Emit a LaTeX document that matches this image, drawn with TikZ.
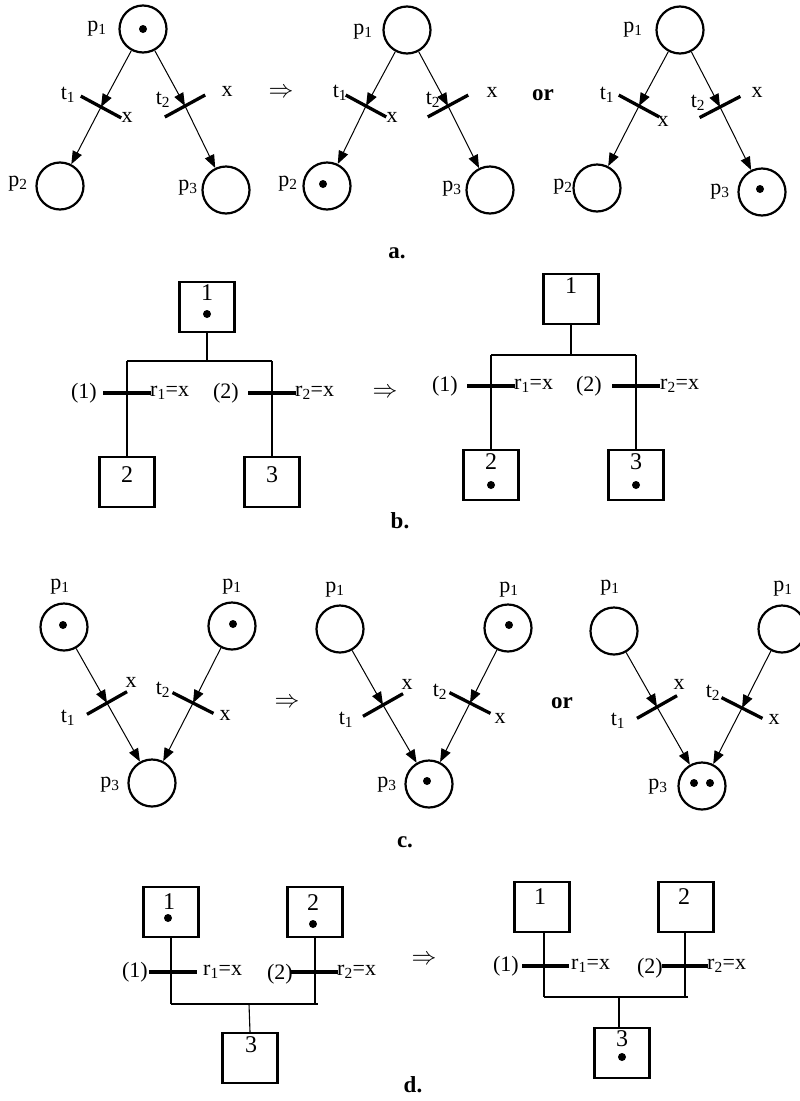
\documentclass[tikz,border=0pt]{standalone}
\usepackage{fontspec}
\setmainfont{Liberation Serif}
\usetikzlibrary{arrows.meta,calc}
\tikzset{
  place/.style={circle,draw,line width=2.2pt,minimum size=47pt,inner sep=0pt},
  box/.style={rectangle,draw,line width=2.2pt,minimum width=55pt,minimum height=50pt,inner sep=0pt},
  arc/.style={line width=1pt,-{Triangle[length=13pt,width=10pt]}},
  link/.style={line width=1.1pt},
  bar/.style={line width=3.3pt},
  lbl/.style={inner sep=0pt,font=\fontsize{22}{26}\selectfont},
  num/.style={inner sep=0pt,font=\fontsize{24}{28}\selectfont},
  bold/.style={inner sep=0pt,font=\bfseries\fontsize{23}{27}\selectfont},
  impl/.style={inner sep=0pt,font=\fontsize{28}{32}\selectfont},
  tok/.style={circle,fill,inner sep=0pt,minimum size=8pt},
}
\newcommand\pnbar[2]{\draw[bar] ($(#1)!23pt!90:(#2)$) -- ($(#1)!23pt!-90:(#2)$);}
\begin{document}
\begin{tikzpicture}[x=1pt,y=-1pt]
\useasboundingbox (0,0) rectangle (800,1101);

% ================= a. =================
% left panel
\node[place] (a1p1) at (143,29) {};
\node[place] (a1p2) at (60,186) {};
\node[place] (a1p3) at (226,190) {};
\node[tok] (a1k1) at (143,29) {};
\coordinate (a1t1) at (101,107);
\coordinate (a1t2) at (185,106);
\pnbar{a1t1}{a1p1}
\pnbar{a1t2}{a1p1}
\draw[arc] (a1p1) -- (a1t1);
\draw[arc] (a1t1) -- (a1p2);
\draw[arc] (a1p1) -- (a1t2);
\draw[arc] (a1t2) -- (a1p3);
\node[lbl] (a1l1) at (97,29) {p\textsubscript{1}};
\node[lbl] (a1l2) at (18,184) {p\textsubscript{2}};
\node[lbl] (a1l3) at (188,188) {p\textsubscript{3}};
\node[lbl] (a1l4) at (68,95) {t\textsubscript{1}};
\node[lbl] (a1l5) at (127,117) {x};
\node[lbl] (a1l6) at (163,100) {t\textsubscript{2}};
\node[lbl] (a1l7) at (227,91) {x};

\node[impl] (aimp) at (281,93) {$\Rightarrow$};

% middle panel
\node[place] (a2p1) at (407,30) {};
\node[place] (a2p2) at (327,186) {};
\node[place] (a2p3) at (490,190) {};
\node[tok] (a2k1) at (323,184) {};
\coordinate (a2t1) at (366,106);
\coordinate (a2t2) at (448,106);
\pnbar{a2t1}{a2p1}
\pnbar{a2t2}{a2p1}
\draw[arc] (a2p1) -- (a2t1);
\draw[arc] (a2t1) -- (a2p2);
\draw[arc] (a2p1) -- (a2t2);
\draw[arc] (a2t2) -- (a2p3);
\node[lbl] (a2l1) at (363,32) {p\textsubscript{1}};
\node[lbl] (a2l2) at (288,184) {p\textsubscript{2}};
\node[lbl] (a2l3) at (452,189) {p\textsubscript{3}};
\node[lbl] (a2l4) at (340,93) {t\textsubscript{1}};
\node[lbl] (a2l5) at (392,117) {x};
\node[lbl] (a2l6) at (433,100) {t\textsubscript{2}};
\node[lbl] (a2l7) at (492,92) {x};

\node[bold] (aor) at (543,95) {or};

% right panel
\node[place] (a3p1) at (680,30) {};
\node[place] (a3p2) at (597,188) {};
\node[place] (a3p3) at (762,192) {};
\node[tok] (a3k1) at (760,189) {};
\coordinate (a3t1) at (639,106);
\coordinate (a3t2) at (720,107);
\pnbar{a3t1}{a3p1}
\pnbar{a3t2}{a3p1}
\draw[arc] (a3p1) -- (a3t1);
\draw[arc] (a3t1) -- (a3p2);
\draw[arc] (a3p1) -- (a3t2);
\draw[arc] (a3t2) -- (a3p3);
\node[lbl] (a3l1) at (633,30) {p\textsubscript{1}};
\node[lbl] (a3l2) at (563,187) {p\textsubscript{2}};
\node[lbl] (a3l3) at (720,192) {p\textsubscript{3}};
\node[lbl] (a3l4) at (607,95) {t\textsubscript{1}};
\node[lbl] (a3l5) at (663,121) {x};
\node[lbl] (a3l6) at (698,103) {t\textsubscript{2}};
\node[lbl] (a3l7) at (757,92) {x};

\node[bold] (acap) at (397,253) {a.};

% ================= b. =================
% left
\node[box] (b1s1) at (207,307) {};
\node[box] (b1s2) at (127,482) {};
\node[box] (b1s3) at (272,482) {};
\node[num] (b1n1) at (207,293) {1};
\node[tok] (b1k1) at (207,314) {};
\node[num] (b1n2) at (127,475) {2};
\node[num] (b1n3) at (272,475) {3};
\coordinate (b1j) at (207,361);
\coordinate (b1jl) at (127,361);
\coordinate (b1jr) at (272,361);
\draw[link] (b1s1.south) -- (b1j);
\draw[link] (b1jl) -- (b1jr);
\draw[link] (b1jl) -- (b1s2.north);
\draw[link] (b1jr) -- (b1s3.north);
\coordinate (b1r1) at (127,393);
\coordinate (b1r2) at (272,393);
\draw[bar] ($(b1r1)+(-24,0)$) -- ($(b1r1)+(24,0)$);
\draw[bar] ($(b1r2)+(-24,0)$) -- ($(b1r2)+(24,0)$);
\node[lbl,anchor=east] (b1l1) at (97,393) {(1)};
\node[lbl,anchor=west] (b1l2) at (150,393) {r\textsubscript{1}=x};
\node[lbl,anchor=east] (b1l3) at (239,393) {(2)};
\node[lbl,anchor=west] (b1l4) at (295,393) {r\textsubscript{2}=x};

\node[impl] (bimp) at (385,393) {$\Rightarrow$};

% right
\node[box] (b2s1) at (571,299) {};
\node[box] (b2s2) at (491,475) {};
\node[box] (b2s3) at (636,475) {};
\node[num] (b2n1) at (571,286) {1};
\node[num] (b2n2) at (491,462) {2};
\node[tok] (b2k2) at (491,485) {};
\node[num] (b2n3) at (636,462) {3};
\node[tok] (b2k3) at (636,485) {};
\coordinate (b2j) at (571,355);
\coordinate (b2jl) at (491,355);
\coordinate (b2jr) at (636,355);
\draw[link] (b2s1.south) -- (b2j);
\draw[link] (b2jl) -- (b2jr);
\draw[link] (b2jl) -- (b2s2.north);
\draw[link] (b2jr) -- (b2s3.north);
\coordinate (b2r1) at (491,386);
\coordinate (b2r2) at (636,386);
\draw[bar] ($(b2r1)+(-24,0)$) -- ($(b2r1)+(24,0)$);
\draw[bar] ($(b2r2)+(-24,0)$) -- ($(b2r2)+(24,0)$);
\node[lbl,anchor=east] (b2l1) at (458,386) {(1)};
\node[lbl,anchor=west] (b2l2) at (514,386) {r\textsubscript{1}=x};
\node[lbl,anchor=east] (b2l3) at (602,386) {(2)};
\node[lbl,anchor=west] (b2l4) at (660,386) {r\textsubscript{2}=x};

\node[bold] (bcap) at (400,521) {b.};

% ================= c. =================
% left
\node[place] (c1p1) at (64,627) {};
\node[place] (c1p2) at (232,626) {};
\node[place] (c1p3) at (152,783) {};
\node[tok] (c1k1) at (63,625) {};
\node[tok] (c1k2) at (233,624) {};
\coordinate (c1t1) at (107,703);
\coordinate (c1t2) at (193,703);
\pnbar{c1t1}{c1p1}
\pnbar{c1t2}{c1p2}
\draw[arc] (c1p1) -- (c1t1);
\draw[arc] (c1t1) -- (c1p3);
\draw[arc] (c1p2) -- (c1t2);
\draw[arc] (c1t2) -- (c1p3);
\node[lbl] (c1l1) at (60,587) {p\textsubscript{1}};
\node[lbl] (c1l2) at (232,587) {p\textsubscript{1}};
\node[lbl] (c1l3) at (110,785) {p\textsubscript{3}};
\node[lbl] (c1l4) at (68,718) {t\textsubscript{1}};
\node[lbl] (c1l5) at (131,682) {x};
\node[lbl] (c1l6) at (163,690) {t\textsubscript{2}};
\node[lbl] (c1l7) at (225,715) {x};

\node[impl] (cimp) at (287,703) {$\Rightarrow$};

% middle
\node[place] (c2p1) at (340,629) {};
\node[place] (c2p2) at (508,628) {};
\node[place] (c2p3) at (429,784) {};
\node[tok] (c2k1) at (509,625) {};
\node[tok] (c2k2) at (427,781) {};
\coordinate (c2t1) at (383,705);
\coordinate (c2t2) at (470,703);
\pnbar{c2t1}{c2p1}
\pnbar{c2t2}{c2p2}
\draw[arc] (c2p1) -- (c2t1);
\draw[arc] (c2t1) -- (c2p3);
\draw[arc] (c2p2) -- (c2t2);
\draw[arc] (c2t2) -- (c2p3);
\node[lbl] (c2l1) at (335,590) {p\textsubscript{1}};
\node[lbl] (c2l2) at (509,590) {p\textsubscript{1}};
\node[lbl] (c2l3) at (387,785) {p\textsubscript{3}};
\node[lbl] (c2l4) at (346,720) {t\textsubscript{1}};
\node[lbl] (c2l5) at (407,684) {x};
\node[lbl] (c2l6) at (440,692) {t\textsubscript{2}};
\node[lbl] (c2l7) at (500,718) {x};

\node[bold] (cor) at (562,703) {or};

% right
\node[place] (c3p1) at (614,631) {};
\node[place] (c3p2) at (782,629) {};
\node[place] (c3p3) at (702,786) {};
\node[tok] (c3k1) at (694,783) {};
\node[tok] (c3k2) at (710,783) {};
\coordinate (c3t1) at (657,707);
\coordinate (c3t2) at (742,708);
\pnbar{c3t1}{c3p1}
\pnbar{c3t2}{c3p2}
\draw[arc] (c3p1) -- (c3t1);
\draw[arc] (c3t1) -- (c3p3);
\draw[arc] (c3p2) -- (c3t2);
\draw[arc] (c3t2) -- (c3p3);
\node[lbl] (c3l1) at (610,588) {p\textsubscript{1}};
\node[lbl] (c3l2) at (783,589) {p\textsubscript{1}};
\node[lbl] (c3l3) at (658,787) {p\textsubscript{3}};
\node[lbl] (c3l4) at (618,721) {t\textsubscript{1}};
\node[lbl] (c3l5) at (679,684) {x};
\node[lbl] (c3l6) at (713,693) {t\textsubscript{2}};
\node[lbl] (c3l7) at (774,719) {x};

\node[bold] (ccap) at (405,842) {c.};

% ================= d. =================
% left
\node[box] (d1s1) at (171,912) {};
\node[box] (d1s2) at (315,912) {};
\node[box] (d1s3) at (250,1058) {};
\node[num] (d1n1) at (169,902) {1};
\node[tok] (d1k1) at (168,918) {};
\node[num] (d1n2) at (313,903) {2};
\node[tok] (d1k2) at (313,924) {};
\node[num] (d1n3) at (251,1045) {3};
\coordinate (d1jl) at (171,1004);
\coordinate (d1jr) at (315,1004);
\coordinate (d1j) at (249,1004);
\coordinate (d1je) at (318,1004);
\draw[link] (d1s1.south) -- (d1jl);
\draw[link] (d1s2.south) -- (d1jr);
\draw[link] (d1jl) -- (d1je);
\draw[link] (d1j) -- (d1s3.north);
\coordinate (d1r1) at (172,972);
\coordinate (d1r2) at (315,972);
\draw[bar] ($(d1r1)+(-23,0)$) -- ($(d1r1)+(25,0)$);
\draw[bar] ($(d1r2)+(-25,0)$) -- ($(d1r2)+(23,0)$);
\node[lbl,anchor=east] (d1l1) at (148,972) {(1)};
\node[lbl,anchor=west] (d1l2) at (203,972) {r\textsubscript{1}=x};
\node[lbl,anchor=east] (d1l3) at (293,974) {(2)};
\node[lbl,anchor=west] (d1l4) at (337,972) {r\textsubscript{2}=x};

\node[impl] (dimp) at (424,960) {$\Rightarrow$};

% right
\node[box] (d2s1) at (542,907) {};
\node[box] (d2s2) at (686,907) {};
\node[box] (d2s3) at (622,1053) {};
\node[num] (d2n1) at (540,897) {1};
\node[num] (d2n2) at (684,897) {2};
\node[num] (d2n3) at (622,1039) {3};
\node[tok] (d2k3) at (622,1057) {};
\coordinate (d2jl) at (544,997);
\coordinate (d2jr) at (685,997);
\coordinate (d2j) at (619,997);
\coordinate (d2je) at (688,997);
\draw[link] (d2s1.south -| d2jl) -- (d2jl);
\draw[link] (d2s2.south -| d2jr) -- (d2jr);
\draw[link] (d2jl) -- (d2je);
\draw[link] (d2j) -- (d2j |- d2s3.north);
\coordinate (d2r1) at (545,966);
\coordinate (d2r2) at (685,966);
\draw[bar] ($(d2r1)+(-23,0)$) -- ($(d2r1)+(24,0)$);
\draw[bar] ($(d2r2)+(-23,0)$) -- ($(d2r2)+(23,0)$);
\node[lbl,anchor=east] (d2l1) at (519,966) {(1)};
\node[lbl,anchor=west] (d2l2) at (571,966) {r\textsubscript{1}=x};
\node[lbl,anchor=east] (d2l3) at (663,968) {(2)};
\node[lbl,anchor=west] (d2l4) at (707,966) {r\textsubscript{2}=x};

\node[bold] (dcap) at (413,1085) {d.};
\end{tikzpicture}
\end{document}
